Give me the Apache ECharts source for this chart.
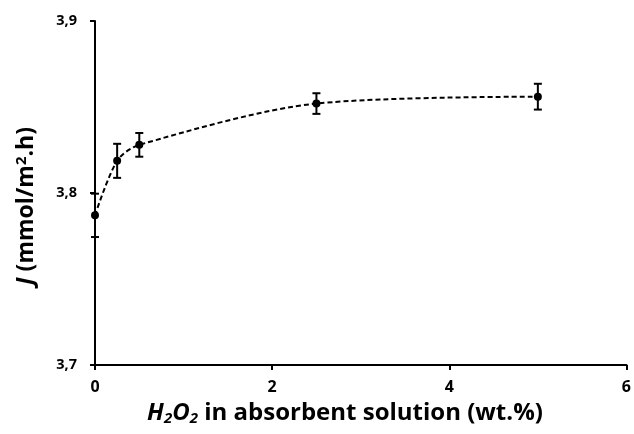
<!DOCTYPE html>
<html>
<head>
<meta charset="utf-8">
<script src="https://cdn.jsdelivr.net/npm/echarts@6/dist/echarts.min.js"></script>
<style>
  html, body { margin: 0; padding: 0; background: #fff; }
  #chart { width: 634px; height: 434px; }
</style>
</head>
<body>
<div id="chart"></div>
<script>
// H2O2 concentration in the absorbent solution (wt.%)
const h2o2 = [0, 0.25, 0.5, 2.5, 5];
// Flux J (mmol/m2.h)
const flux = [3.787, 3.8187, 3.828, 3.852, 3.856];
// Standard deviation of each flux value
const fluxErr = [0.0126, 0.0099, 0.0069, 0.006, 0.0075];
// Axis tick labels (decimal comma)
const yTicks = [3.7, 3.8, 3.9];
const yTickLabels = ['3,7', '3,8', '3,9'];
const xTicks = [0, 2, 4, 6];

const FONT = '"Open Sans", sans-serif';

const points = h2o2.map((x, i) => [x, flux[i]]);
const bars = h2o2.map((x, i) => [x, flux[i] - fluxErr[i], flux[i] + fluxErr[i]]);

const chart = echarts.init(document.getElementById('chart'), null, { renderer: 'canvas' });

chart.setOption({
  animation: false,
  backgroundColor: '#ffffff',
  grid: { left: 95, right: 6, top: 21, bottom: 69, containLabel: false },
  xAxis: {
    type: 'value',
    min: xTicks[0],
    max: xTicks[xTicks.length - 1],
    interval: xTicks[1] - xTicks[0],
    axisLine: { show: true, onZero: false, lineStyle: { color: '#000', width: 2 } },
    axisTick: { show: true, length: 5, lineStyle: { color: '#000', width: 2 } },
    axisLabel: { color: '#000', fontFamily: FONT, fontWeight: 'bold', fontSize: 16, margin: 14 },
    splitLine: { show: false }
  },
  yAxis: {
    type: 'value',
    min: yTicks[0],
    max: yTicks[yTicks.length - 1],
    interval: 0.1,
    axisLine: { show: true, onZero: false, lineStyle: { color: '#000', width: 2 } },
    axisTick: { show: true, inside: false, length: 5, lineStyle: { color: '#000', width: 2 } },
    axisLabel: {
      color: '#000', fontFamily: FONT, fontWeight: 'bold', fontSize: 14.5, margin: 18,
      formatter: v => {
        const i = yTicks.findIndex(t => Math.abs(t - v) < 1e-9);
        return i >= 0 ? yTickLabels[i] : '';
      }
    },
    splitLine: { show: false }
  },
  series: [
    {
      // dashed smooth curve through the measurements
      type: 'line',
      data: points,
      smooth: 0.3,
      symbol: 'circle',
      symbolSize: 8,
      showSymbol: true,
      itemStyle: { color: '#000' },
      lineStyle: { color: '#000', width: 2, type: [5, 3] },
      z: 3
    },
    {
      // error bars (± standard deviation)
      type: 'custom',
      data: bars,
      z: 4,
      renderItem: (params, api) => {
        const lo = api.coord([api.value(0), api.value(1)]);
        const hi = api.coord([api.value(0), api.value(2)]);
        const cap = 4;
        const style = { stroke: '#000', lineWidth: 2, fill: 'none' };
        return {
          type: 'group',
          children: [
            { type: 'line', shape: { x1: lo[0], y1: lo[1], x2: hi[0], y2: hi[1] }, style },
            { type: 'line', shape: { x1: lo[0] - cap, y1: lo[1], x2: lo[0] + cap, y2: lo[1] }, style },
            { type: 'line', shape: { x1: hi[0] - cap, y1: hi[1], x2: hi[0] + cap, y2: hi[1] }, style }
          ]
        };
      }
    }
  ],
  graphic: [
    {
      type: 'text',
      x: 26, y: 206,
      rotation: Math.PI / 2,
      style: {
        text: '{i|J}{n| (mmol/m}{sup|2}{n|.h)}',
        align: 'center',
        verticalAlign: 'middle',
        fill: '#000',
        rich: {
          i: { fontFamily: FONT, fontWeight: 'bold', fontStyle: 'italic', fontSize: 23, fill: '#000' },
          n: { fontFamily: FONT, fontWeight: 'bold', fontSize: 23, fill: '#000' },
          sup: { fontFamily: FONT, fontWeight: 'bold', fontSize: 15, verticalAlign: 'top', fill: '#000' }
        }
      }
    },
    {
      type: 'text',
      x: 345, y: 413,
      style: {
        text: '{i|H}{sub|2}{i|O}{sub|2}{n| in absorbent solution (wt.%)}',
        align: 'center',
        verticalAlign: 'middle',
        fill: '#000',
        rich: {
          i: { fontFamily: FONT, fontWeight: 'bold', fontStyle: 'italic', fontSize: 24, fill: '#000' },
          n: { fontFamily: FONT, fontWeight: 'bold', fontSize: 24, fill: '#000' },
          sub: { fontFamily: FONT, fontWeight: 'bold', fontStyle: 'italic', fontSize: 15, verticalAlign: 'bottom', padding: [11, 0, 0, 0], fill: '#000' }
        }
      }
    }
  ]
});
</script>
</body>
</html>
